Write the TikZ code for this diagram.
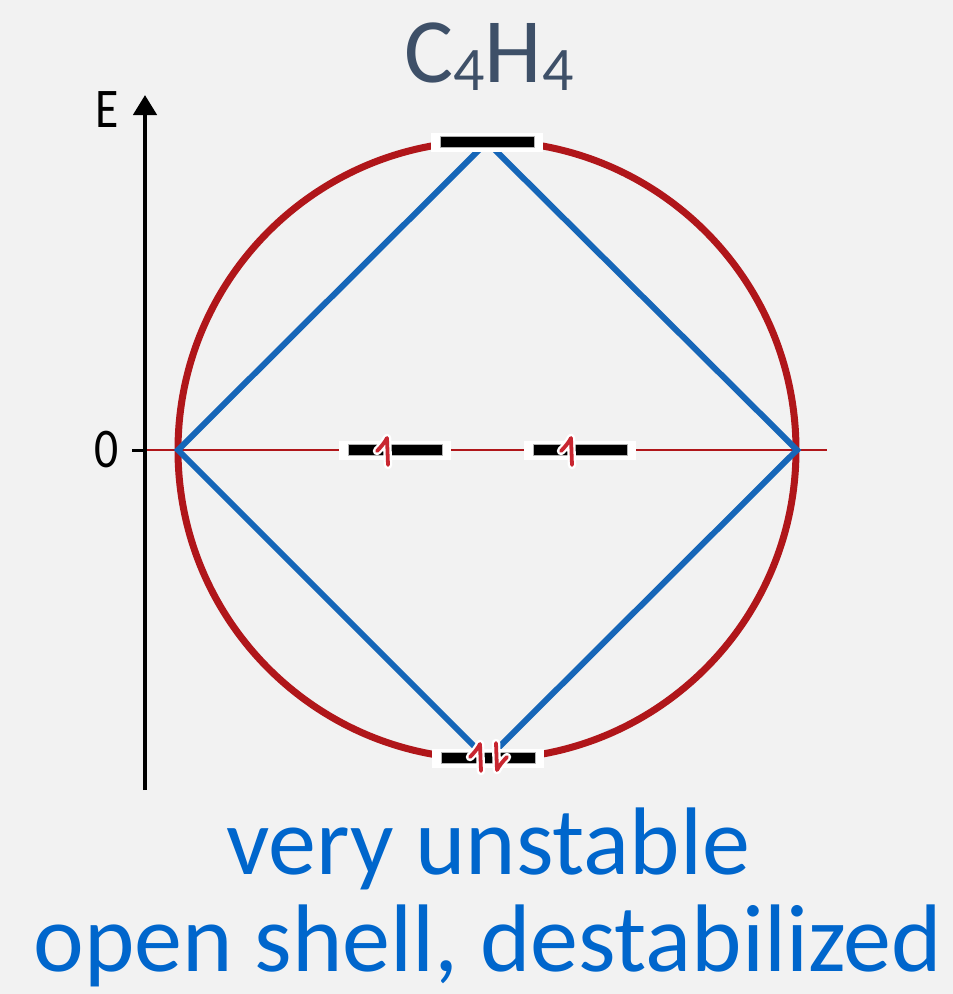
\documentclass[tikz,border=0pt]{standalone}
\usepackage{fontspec}
\setmainfont{Carlito}
\usepackage{xcolor}
\usetikzlibrary{arrows.meta}

\definecolor{bggray}{RGB}{242,242,242}
\definecolor{ringred}{RGB}{176,22,26}
\definecolor{spinred}{RGB}{200,38,48}
\definecolor{diamblue}{RGB}{22,102,184}
\definecolor{textblue}{RGB}{0,102,204}
\definecolor{titleslate}{RGB}{62,80,104}

\newcommand{\chemsub}[1]{\raisebox{-8pt}{\fontsize{62}{62}\selectfont #1}}

\begin{document}
\begin{tikzpicture}[
  x=1pt, y=-1pt,
  every node/.style={inner sep=0pt},
  orbit/.style={draw=ringred, line width=7pt},
  bond/.style={draw=diamblue, line width=6pt},
  axis/.style={-{Triangle[width=23pt,length=20pt]}, line width=4.5pt},
  zeroline/.style={draw=ringred, line width=1.6pt},
  level/.style={rectangle, fill=white, minimum width=112pt, minimum height=19pt,
                path picture={\fill[black, draw=gray!60, line width=0.6pt]
                  ([xshift=9pt,yshift=4pt]path picture bounding box.south west) rectangle
                  ([xshift=-9pt,yshift=-4pt]path picture bounding box.north east);}},
  axlabel/.style={font=\fontsize{56}{56}\selectfont, xscale=0.85},
  spin/.style={line width=3.8pt, line cap=round, line join=round},
  spinup/.pic={
    \draw[spin, white, line width=8.5pt] (-11,0) .. controls (-7,-4) and (-3,-9) .. (-1,-13) -- (0,14);
    \draw[spin, spinred] (-11,0) .. controls (-7,-4) and (-3,-9) .. (-1,-13) -- (0,14);
  },
]
  \fill[bggray] (0,0) rectangle (953,994);
  \useasboundingbox (0,0) rectangle (953,994);

  % Circle and diamond
  \coordinate (vleft)  at (178,450);
  \coordinate (vtop)   at (487,142);
  \coordinate (vright) at (797,450);
  \coordinate (vbot)   at (487,759);
  \coordinate (axzero) at (145,450);
  \coordinate (zend)   at (827,450);
  \coordinate (tick)   at (132,450);
  \coordinate (axbot)  at (145,790);
  \coordinate (axtop)  at (145,95);

  \draw[orbit] (487,450) circle[radius=309pt];
  \draw[zeroline] (axzero) -- (zend);
  \draw[bond] (vleft) -- (vtop) -- (vright) -- (vbot) -- cycle;

  % Energy axis
  \draw[axis] (axbot) -- (axtop);
  \draw[line width=3pt] (tick) -- (axzero);
  \node[axlabel] (elabel) at (107,110) {E};
  \node[axlabel] (zlabel) at (107,450) {0};

  % Levels
  \node[level] (lvtop)  at (vtop) {};
  \node[level] (lvmidl) at (395,450) {};
  \node[level] (lvmidr) at (580,450) {};
  \node[level] (lvbot)  at (488,758) {};

  % Electrons
  \pic at (388,451) {spinup};
  \pic at (572,451) {spinup};
  \pic at (481,757) {spinup};
  \pic[rotate=180] at (496,757) {spinup};

  % Labels
  \node[anchor=base, text=titleslate, font=\fontsize{92}{92}\selectfont] (title) at (489,82)
        {C\chemsub{4}H\chemsub{4}};
  \node[anchor=base, text=textblue, font=\fontsize{96}{98}\selectfont] (txtone) at (488,874)
        {very unstable};
  \node[anchor=base, text=textblue, font=\fontsize{96}{98}\selectfont] (txttwo) at (488,971)
        {open shell, destabilized};
\end{tikzpicture}
\end{document}
